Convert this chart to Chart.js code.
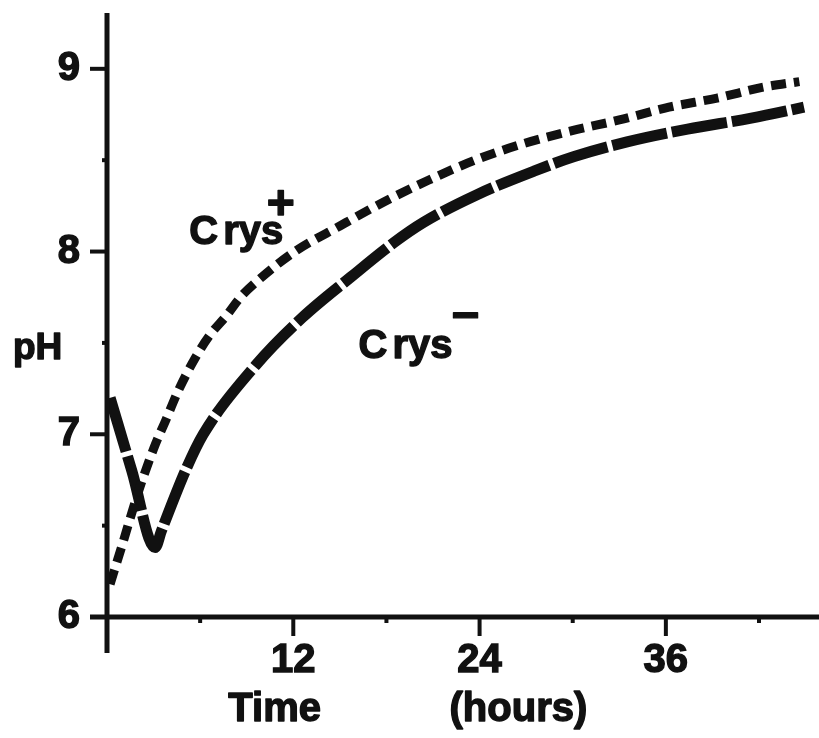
<!DOCTYPE html>
<html>
<head>
<meta charset="utf-8">
<script src="https://cdn.jsdelivr.net/npm/chart.js@4.4.1/dist/chart.umd.min.js"></script>
<style>
    body { margin: 0; background: #fff; }
    canvas { display: block; }
</style>
</head>
<body>
<canvas id="graficoPh" width="819" height="738"></canvas>
<script>
// valores: tempo (horas) e pH
const tempoCrysMais = [0.2, 1.0, 2.0, 3.0, 3.8, 4.6, 5.7, 6.6, 7.7, 8.6, 9.7, 12.1, 15.0, 17.8, 20.7, 23.7, 26.8, 29.9, 33.0, 36.2, 39.3, 42.3, 44.6];
const phCrysMais = [6.18, 6.40, 6.68, 6.92, 7.08, 7.24, 7.42, 7.54, 7.65, 7.75, 7.84, 8.00, 8.14, 8.27, 8.39, 8.50, 8.59, 8.66, 8.72, 8.79, 8.84, 8.90, 8.93];

const tempoCrysMenos = [0.2, 1.6, 3.1, 3.5, 5.1, 6.2, 9.6, 12.6, 15.7, 18.5, 20.4, 23.8, 27.5, 30.1, 33.5, 37.4, 41.5, 44.9];
const phCrysMenos = [7.20, 6.80, 6.38, 6.47, 6.81, 7.00, 7.38, 7.64, 7.86, 8.05, 8.16, 8.31, 8.44, 8.52, 8.60, 8.67, 8.73, 8.79];

const ticksTempo = [0, 6, 12, 18, 24, 30, 36, 42];
const rotulosTempo = [12, 24, 36];
const ticksPh = [6, 6.5, 7, 7.5, 8, 8.5, 9];
const rotulosPh = [6, 7, 8, 9];

const fonte = '"Liberation Sans", Arial, sans-serif';
const preto = '#111';

function pontos(tempos, valores) {
    return tempos.map((t, i) => ({ x: t, y: valores[i] }));
}

// eixos, marcas e textos desenhados por cima
const desenhoEixos = {
    id: 'desenhoEixos',
    afterDraw(chart) {
        const { ctx, chartArea: area, scales: { x, y } } = chart;
        ctx.save();
        ctx.strokeStyle = preto;
        ctx.fillStyle = preto;
        ctx.lineCap = 'butt';

        // eixo y (passa um pouco abaixo do eixo x)
        ctx.lineWidth = 5;
        ctx.beginPath();
        ctx.moveTo(area.left, area.top - 1);
        ctx.lineTo(area.left, area.bottom + 36);
        ctx.stroke();

        // eixo x
        ctx.beginPath();
        ctx.moveTo(area.left - 17, area.bottom);
        ctx.lineTo(chart.width, area.bottom);
        ctx.stroke();

        ctx.lineWidth = 4;
        ticksPh.forEach(v => {
            const py = y.getPixelForValue(v);
            const tam = rotulosPh.includes(v) ? 17 : 5;
            ctx.beginPath();
            ctx.moveTo(area.left - tam, py);
            ctx.lineTo(area.left, py);
            ctx.stroke();
        });
        ticksTempo.forEach(v => {
            if (v === 0) return;
            const px = x.getPixelForValue(v);
            const tam = rotulosTempo.includes(v) ? 19 : 6;
            ctx.beginPath();
            ctx.moveTo(px, area.bottom);
            ctx.lineTo(px, area.bottom + tam);
            ctx.stroke();
        });

        // texto um pouco mais grosso, como no original
        ctx.lineWidth = 1.4;
        ctx.lineJoin = 'round';
        const texto = (s, px, py) => {
            ctx.fillText(s, px, py);
            ctx.strokeText(s, px, py);
        };

        // titulos dos eixos
        ctx.font = 'bold 40px ' + fonte;
        ctx.textBaseline = 'alphabetic';
        ctx.textAlign = 'center';
        texto('Time', x.getPixelForValue(10.8), area.bottom + 104);
        texto('(hours)', x.getPixelForValue(26.5), area.bottom + 104);
        ctx.textAlign = 'left';
        ctx.font = 'bold 37px ' + fonte;
        texto('pH', area.left - 94, y.getPixelForValue(7.41));

        // rotulos das curvas
        const rotulo = (tx, ty, sx, sy, sup) => {
            ctx.font = 'bold 40px ' + fonte;
            ctx.textAlign = 'left';
            ctx.textBaseline = 'alphabetic';
            const px = x.getPixelForValue(tx);
            const py = y.getPixelForValue(ty);
            texto('C', px, py);
            texto('rys', px + ctx.measureText('C').width + 5, py);
            ctx.font = 'bold 48px ' + fonte;
            ctx.textAlign = 'center';
            ctx.textBaseline = 'middle';
            texto(sup, x.getPixelForValue(sx), y.getPixelForValue(sy));
        };
        rotulo(5.3, 8.04, 11.2, 8.25, '+');
        rotulo(16.2, 7.42, 23.1, 7.64, '\u2212');

        ctx.restore();
    }
};

new Chart(document.getElementById('graficoPh'), {
    type: 'line',
    data: {
        datasets: [{
            label: 'Crys+',
            data: pontos(tempoCrysMais, phCrysMais),
            borderColor: preto,
            borderWidth: 9,
            borderDash: [15, 8],
            pointRadius: 0,
            cubicInterpolationMode: 'monotone',
            fill: false
        }, {
            label: 'Crys-',
            data: pontos(tempoCrysMenos, phCrysMenos),
            borderColor: preto,
            borderWidth: 11,
            borderDash: [56, 5],
            pointRadius: 0,
            cubicInterpolationMode: 'monotone',
            fill: false
        }]
    },
    options: {
        responsive: false,
        animation: false,
        devicePixelRatio: 1,
        layout: {
            padding: { top: 14, right: 1, left: 0, bottom: 0 }
        },
        plugins: {
            legend: { display: false },
            tooltip: { enabled: false }
        },
        scales: {
            x: {
                type: 'linear',
                min: 0,
                max: 45.8,
                afterFit(scale) {
                    scale.height = 121;
                    scale.paddingLeft = 0;
                    scale.paddingRight = 0;
                },
                afterBuildTicks(scale) { scale.ticks = ticksTempo.map(v => ({ value: v })); },
                border: { display: false },
                grid: { drawOnChartArea: false, drawTicks: true, tickLength: 16, tickColor: 'transparent' },
                ticks: {
                    padding: 4,
                    autoSkip: false,
                    maxRotation: 0,
                    color: preto,
                    textStrokeColor: preto,
                    textStrokeWidth: 1.4,
                    font: { family: fonte, size: 40, weight: 'bold' },
                    callback: v => rotulosTempo.includes(v) ? String(v) : ''
                }
            },
            y: {
                type: 'linear',
                min: 6,
                max: 9.3,
                afterFit(scale) {
                    scale.width = 107;
                    scale.paddingTop = 0;
                    scale.paddingBottom = 0;
                },
                afterBuildTicks(scale) { scale.ticks = ticksPh.map(v => ({ value: v })); },
                border: { display: false },
                grid: { drawOnChartArea: false, drawTicks: true, tickLength: 16, tickColor: 'transparent' },
                ticks: {
                    padding: 11,
                    autoSkip: false,
                    color: preto,
                    textStrokeColor: preto,
                    textStrokeWidth: 1.4,
                    font: { family: fonte, size: 40, weight: 'bold' },
                    callback: v => rotulosPh.includes(v) ? String(v) : ''
                }
            }
        }
    },
    plugins: [desenhoEixos]
});
</script>
</body>
</html>
